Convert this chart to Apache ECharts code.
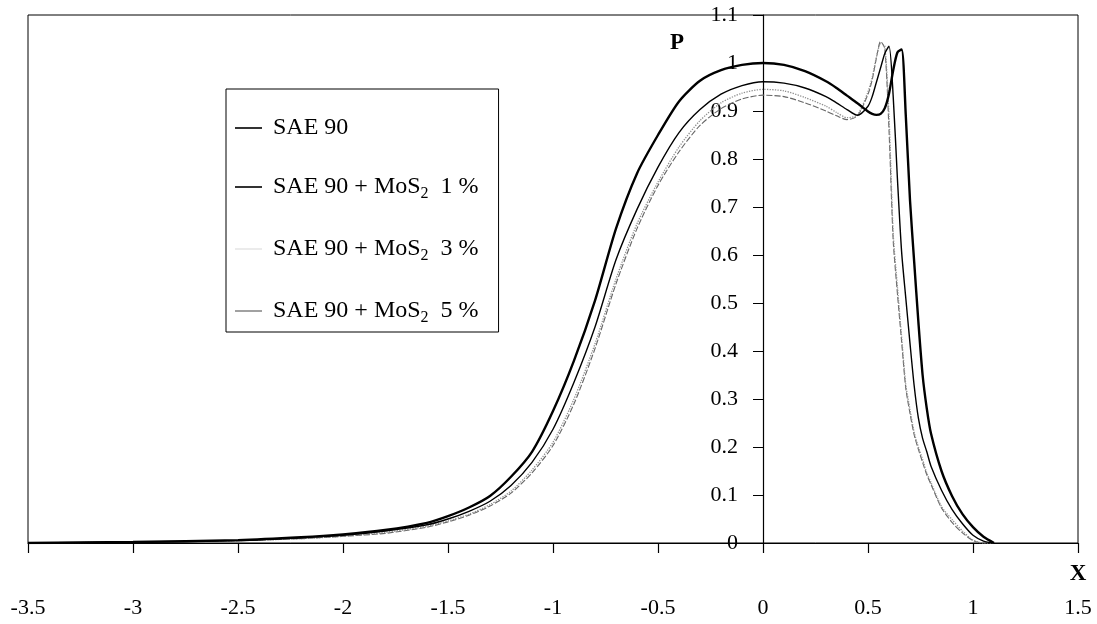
<!DOCTYPE html>
<html>
<head>
<meta charset="utf-8">
<script src="https://cdn.jsdelivr.net/npm/echarts@6/dist/echarts.min.js"></script>
<style>
html, body { margin: 0; padding: 0; background: #fff; }
#chart { width: 1097px; height: 624px; }
</style>
</head>
<body>
<div id="chart"></div>
<script>
// Dimensionless position X (shared sample points)
const X = [-3.5, -3, -2.5, -2.2, -2, -1.8, -1.6, -1.5, -1.4, -1.3, -1.2, -1.1, -1, -0.9, -0.8, -0.7, -0.6, -0.5, -0.4, -0.3, -0.2, -0.1, 0,
  0.1, 0.2, 0.3, 0.35, 0.4, 0.45, 0.5, 0.52, 0.54, 0.56, 0.58, 0.6, 0.62, 0.64, 0.66, 0.68, 0.7, 0.72, 0.74, 0.76, 0.78, 0.8, 0.85, 0.9, 0.95, 1, 1.05, 1.1];

// Dimensionless pressure P for each lubricant
const pSAE90 = [0, 0.002, 0.006, 0.012, 0.018, 0.027, 0.042, 0.056, 0.074, 0.098, 0.138, 0.19, 0.275, 0.38, 0.505, 0.655, 0.77, 0.85, 0.92, 0.963, 0.985, 0.996, 1.0,
  0.996, 0.983, 0.962, 0.948, 0.932, 0.916, 0.899, 0.894, 0.892, 0.894, 0.906, 0.936, 0.985, 1.022, 1.028, 0.89, 0.714, 0.585, 0.46, 0.35, 0.28, 0.228, 0.15, 0.098, 0.06, 0.033, 0.013, 0];
const pMoS1 = [0, 0.002, 0.005, 0.011, 0.016, 0.025, 0.038, 0.05, 0.066, 0.087, 0.12, 0.168, 0.237, 0.335, 0.45, 0.59, 0.695, 0.783, 0.855, 0.903, 0.935, 0.953, 0.961,
  0.958, 0.948, 0.93, 0.917, 0.903, 0.891, 0.91, 0.93, 0.96, 0.99, 1.02, 1.035, 0.93, 0.76, 0.607, 0.51, 0.416, 0.327, 0.26, 0.218, 0.19, 0.16, 0.11, 0.07, 0.04, 0.016, 0.004, 0];
const pMoS3 = [0, 0.002, 0.005, 0.009, 0.014, 0.022, 0.035, 0.046, 0.06, 0.08, 0.108, 0.152, 0.21, 0.30, 0.415, 0.55, 0.665, 0.752, 0.825, 0.88, 0.917, 0.937, 0.945,
  0.942, 0.928, 0.91, 0.897, 0.886, 0.892, 0.94, 0.97, 1.012, 1.04, 1.035, 0.89, 0.645, 0.535, 0.43, 0.33, 0.278, 0.23, 0.2, 0.174, 0.146, 0.126, 0.076, 0.049, 0.025, 0.006, 0, 0];
const pMoS5 = [0, 0.002, 0.005, 0.009, 0.014, 0.02, 0.033, 0.044, 0.058, 0.077, 0.104, 0.146, 0.203, 0.29, 0.405, 0.54, 0.655, 0.745, 0.815, 0.87, 0.905, 0.925, 0.933,
  0.93, 0.917, 0.9, 0.89, 0.882, 0.89, 0.935, 0.965, 1.01, 1.045, 1.03, 0.86, 0.63, 0.52, 0.42, 0.322, 0.27, 0.225, 0.195, 0.168, 0.142, 0.122, 0.073, 0.043, 0.021, 0.005, 0, 0];

const seriesNames = ['SAE 90', 'SAE 90 + MoS2 1 %', 'SAE 90 + MoS2 3 %', 'SAE 90 + MoS2 5 %'];
const seriesValues = [pSAE90, pMoS1, pMoS3, pMoS5];
const seriesStyles = [
  { color: '#000000', width: 2.4, type: 'solid' },
  { color: '#000000', width: 1.4, type: 'solid' },
  { color: '#8f8f8f', width: 1.3, type: 'dotted' },
  { color: '#666666', width: 1.1, type: [6, 2] }
];
const legendSwatch = ['#000000', '#000000', '#e6e6e6', '#8a8a8a'];
const axisTitleY = 'P';
const axisTitleX = 'X';

const FONT = '"Liberation Serif", "Times New Roman", serif';
const X_MIN = -3.5, X_MAX = 1.5;
const GRID_LEFT = 28, GRID_RIGHT = 19;

const chart = echarts.init(document.getElementById('chart'));
const gridWidth = 1097 - GRID_LEFT - GRID_RIGHT;
const yAxisOffset = -gridWidth * (0 - X_MIN) / (X_MAX - X_MIN); // put P axis at X = 0

const series = seriesNames.map((name, k) => ({
  name: name,
  type: 'line',
  data: X.map((x, i) => [x, seriesValues[k][i]]),
  showSymbol: false,
  symbol: 'none',
  smooth: 0.25,
  lineStyle: seriesStyles[k],
  itemStyle: { color: seriesStyles[k].color },
  z: 10 - k,
  animation: false
}));

chart.setOption({
  animation: false,
  backgroundColor: '#ffffff',
  grid: {
    left: GRID_LEFT, right: GRID_RIGHT, top: 15, bottom: 81,
    containLabel: false, outerBoundsMode: 'none',
    show: true, borderColor: '#000', borderWidth: 1, backgroundColor: 'transparent'
  },
  xAxis: {
    type: 'value',
    min: X_MIN, max: X_MAX, interval: 0.5,
    axisLine: { show: true, onZero: true, lineStyle: { color: '#000', width: 1.2 } },
    axisTick: { show: true, inside: false, length: 10, lineStyle: { color: '#000', width: 1.2 } },
    axisLabel: { color: '#000', fontFamily: FONT, fontSize: 22, margin: 54 },
    splitLine: { show: false }
  },
  yAxis: {
    type: 'value',
    position: 'left',
    offset: yAxisOffset,
    min: 0, max: 1.1, interval: 0.1,
    axisLine: { show: true, onZero: false, lineStyle: { color: '#000', width: 1.2 } },
    axisTick: { show: true, inside: false, length: 10, lineStyle: { color: '#000', width: 1 } },
    axisLabel: { color: '#000', fontFamily: FONT, fontSize: 22, margin: 25,
      formatter: v => String(Math.round(v * 10) / 10) },
    splitLine: { show: false }
  },
  legend: {
    orient: 'vertical',
    left: 226, top: 89,
    backgroundColor: '#fff',
    borderColor: '#000', borderWidth: 1,
    padding: [27, 20, 6, 9],
    itemGap: 35,
    itemWidth: 27, itemHeight: 1.6,
    data: seriesNames.map((n, k) => ({ name: n, icon: 'rect', itemStyle: { color: legendSwatch[k] } })),
    formatter: name => {
      const m = name.match(/^(SAE 90 \+ MoS)2 (\d) %$/);
      if (m) return '{t|' + m[1] + '}{s|2}{t|  ' + m[2] + ' %}';
      return '{t|' + name + '}';
    },
    textStyle: {
      color: '#000', fontFamily: FONT, fontSize: 24, padding: [0, 0, 0, 6],
      rich: {
        t: { color: '#000', fontFamily: FONT, fontSize: 24, lineHeight: 30 },
        s: { color: '#000', fontFamily: FONT, fontSize: 16, lineHeight: 16, verticalAlign: 'bottom' }
      }
    }
  },
  graphic: [
    { type: 'text', x: 677, y: 43, z: 100,
      style: { text: axisTitleY, fontFamily: FONT, fontSize: 23, fontWeight: 'bold', fill: '#000', align: 'center', verticalAlign: 'middle' } },
    { type: 'text', x: 1078, y: 574, z: 100,
      style: { text: axisTitleX, fontFamily: FONT, fontSize: 23, fontWeight: 'bold', fill: '#000', align: 'center', verticalAlign: 'middle' } }
  ],
  series: series
});
</script>
</body>
</html>
